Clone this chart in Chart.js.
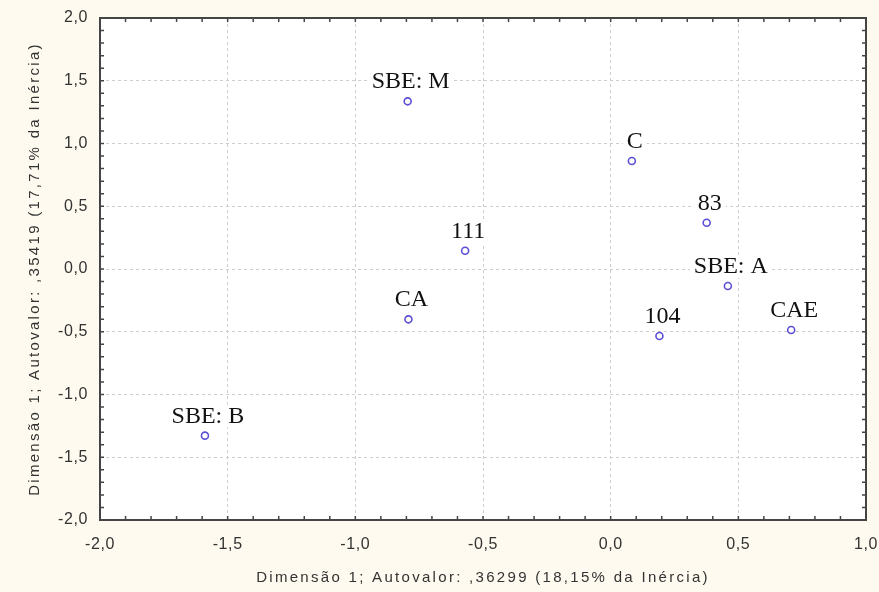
<!DOCTYPE html>
<html>
<head>
<meta charset="utf-8">
<script src="https://cdn.jsdelivr.net/npm/chart.js@4.4.0/dist/chart.umd.min.js"></script>
<style>
    html, body { margin: 0; padding: 0; background: #fefaef; }
    canvas { display: block; }
</style>
</head>
<body>
<canvas id="chart" width="879" height="592"></canvas>
<script>
// points of the correspondence map
const pointLabels = ['SBE: M', 'C', '83', '111', 'SBE: A', 'CA', 'CAE', '104', 'SBE: B'];
const dim1Values = [-0.795, 0.083, 0.376, -0.570, 0.459, -0.792, 0.707, 0.191, -1.589];
const dim2Values = [1.336, 0.861, 0.369, 0.146, -0.135, -0.401, -0.486, -0.534, -1.328];

const xTitle = 'Dimensão 1; Autovalor: ,36299 (18,15% da Inércia)';
const yTitle = 'Dimensão 1; Autovalor: ,35419 (17,71% da Inércia)';

function commaTick(v) {
    return v.toFixed(1).replace('.', ',');
}

// linear scale whose axis titles are drawn with wider letter spacing
class SpacedLinearScale extends Chart.LinearScale {
    drawLabels(chartArea) {
        this.ctx.letterSpacing = '0.6px';
        super.drawLabels(chartArea);
    }
    drawTitle() {
        this.ctx.letterSpacing = '2.3px';
        super.drawTitle();
        this.ctx.letterSpacing = '0px';
    }
}
SpacedLinearScale.id = 'spacedLinear';
SpacedLinearScale.defaults = Chart.LinearScale.defaults;
Chart.register(SpacedLinearScale);

const backgroundPlugin = {
    id: 'background',
    beforeDraw(chart) {
        const ctx = chart.ctx;
        const a = chart.chartArea;
        ctx.save();
        ctx.fillStyle = '#fefaef';
        ctx.fillRect(0, 0, chart.width, chart.height);
        ctx.fillStyle = '#ffffff';
        ctx.fillRect(a.left, a.top, a.right - a.left, a.bottom - a.top);
        ctx.restore();
    }
};

// labels sit on white boxes above each point, drawn before the markers
const labelPlugin = {
    id: 'pointText',
    beforeDatasetsDraw(chart) {
        const ctx = chart.ctx;
        const meta = chart.getDatasetMeta(0);
        ctx.save();
        ctx.letterSpacing = '0px';
        ctx.font = '24px "Liberation Serif", "Times New Roman", serif';
        ctx.textAlign = 'center';
        ctx.textBaseline = 'alphabetic';
        meta.data.forEach((pt, i) => {
            const txt = pointLabels[i];
            const w = ctx.measureText(txt).width;
            const cx = pt.x + 3;
            const by = pt.y - 13;
            ctx.fillStyle = '#ffffff';
            ctx.fillRect(cx - w / 2 - 4, by - 18, w + 8, 23);
            ctx.fillStyle = '#111111';
            ctx.fillText(txt, cx, by);
        });
        ctx.restore();
    }
};

// box round the plot with small inward ticks every 0.1
const framePlugin = {
    id: 'frame',
    afterDraw(chart) {
        const ctx = chart.ctx;
        const a = chart.chartArea;
        const xs = chart.scales.x;
        const ys = chart.scales.y;
        ctx.save();
        ctx.strokeStyle = '#454545';
        ctx.lineWidth = 2;
        ctx.strokeRect(a.left, a.top, a.right - a.left, a.bottom - a.top);
        ctx.lineWidth = 1.5;
        ctx.beginPath();
        for (let k = -20; k <= 10; k++) {
            const px = xs.getPixelForValue(k / 10);
            ctx.moveTo(px, a.bottom); ctx.lineTo(px, a.bottom - 4);
            ctx.moveTo(px, a.top); ctx.lineTo(px, a.top + 4);
        }
        for (let k = -20; k <= 20; k++) {
            const py = ys.getPixelForValue(k / 10);
            ctx.moveTo(a.left, py); ctx.lineTo(a.left + 4, py);
            ctx.moveTo(a.right, py); ctx.lineTo(a.right - 4, py);
        }
        ctx.stroke();
        ctx.restore();
    }
};

const tickFont = { family: '"Liberation Sans", Arial, sans-serif', size: 16 };
const titleFont = { family: '"Liberation Sans", Arial, sans-serif', size: 15 };

new Chart(document.getElementById('chart'), {
    type: 'scatter',
    data: {
        datasets: [{
            data: dim1Values.map((x, i) => ({ x: x, y: dim2Values[i] })),
            pointStyle: 'circle',
            pointRadius: 3.5,
            pointHoverRadius: 3.5,
            borderWidth: 1.6,
            borderColor: '#5b50d6',
            backgroundColor: '#ffffff'
        }]
    },
    options: {
        responsive: false,
        devicePixelRatio: 1,
        animation: false,
        events: [],
        layout: { padding: { top: 18, right: 13, left: 0, bottom: 0 } },
        plugins: {
            legend: { display: false },
            tooltip: { enabled: false }
        },
        scales: {
            x: {
                type: 'spacedLinear',
                min: -2,
                max: 1,
                afterFit(scale) {
                    scale.height = 72;
                    scale.paddingLeft = 0;
                    scale.paddingRight = 0;
                },
                ticks: {
                    stepSize: 0.5,
                    callback: v => commaTick(v),
                    color: '#333333',
                    font: tickFont,
                    padding: 15,
                    maxRotation: 0
                },
                grid: { color: '#cdcdcd', lineWidth: 1, drawTicks: false },
                border: { display: false, dash: [3, 3] },
                title: {
                    display: true,
                    text: xTitle,
                    color: '#333333',
                    font: titleFont,
                    padding: { top: 0, bottom: 5 }
                }
            },
            y: {
                type: 'spacedLinear',
                min: -2,
                max: 2,
                afterFit(scale) {
                    scale.width = 100;
                    scale.paddingTop = 0;
                    scale.paddingBottom = 0;
                },
                ticks: {
                    stepSize: 0.5,
                    callback: v => commaTick(v),
                    color: '#333333',
                    font: tickFont,
                    padding: 12
                },
                grid: { color: '#cdcdcd', lineWidth: 1, drawTicks: false },
                border: { display: false, dash: [3, 3] },
                title: {
                    display: true,
                    text: yTitle,
                    color: '#333333',
                    font: titleFont,
                    padding: { top: 26, bottom: 0 }
                }
            }
        }
    },
    plugins: [backgroundPlugin, labelPlugin, framePlugin]
});
</script>
</body>
</html>
